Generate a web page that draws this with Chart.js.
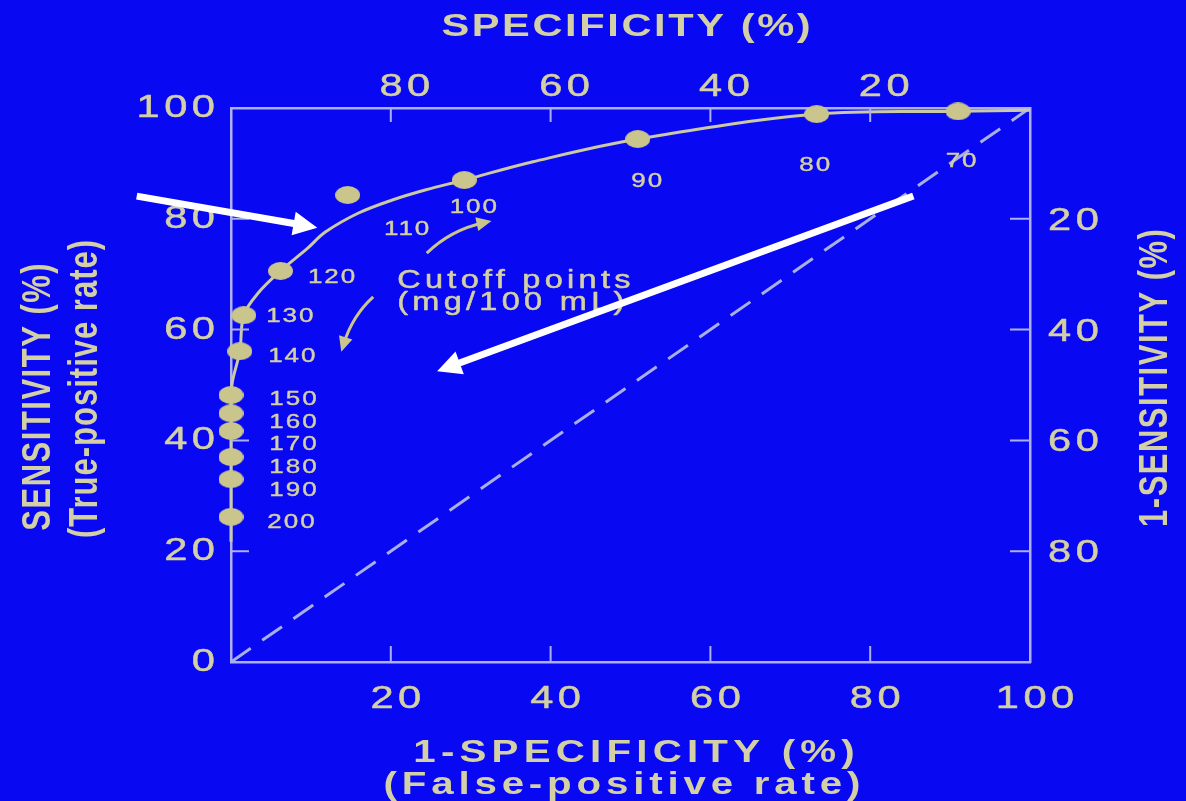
<!DOCTYPE html>
<html>
<head>
<meta charset="utf-8">
<script src="https://cdn.jsdelivr.net/npm/chart.js@4.4.1/dist/chart.umd.min.js"></script>
<style>
  html, body { margin: 0; padding: 0; background: #0808f2; }
  #roc { display: block; }
</style>
</head>
<body>
<canvas id="roc" width="1186" height="801"></canvas>
<script>
// cutoff points (mg/100 mL)
const cutoffs = [70, 80, 90, 100, 110, 120, 130, 140, 150, 160, 170, 180, 190, 200];
// 1-specificity (%) and sensitivity (%) for each cutoff
const falsePositive = [91, 73.3, 50.9, 29.2, 14.6, 6.2, 1.6, 1.1, 0, 0, 0, 0, 0, 0];
const truePositive = [99.4, 98.9, 94.4, 87.0, 84.3, 70.6, 62.6, 56.1, 48.2, 44.9, 41.7, 37.0, 33.0, 26.2];

// the drawn ROC curve
const curveFP = [0, 0, 0.2, 1.1, 1.6, 3.4, 6.2, 9.6, 11.8, 15.9, 20.2, 24.3, 29.2, 37.8, 50.9, 73.3, 91, 100];
const curveTP = [21.7, 48, 50.8, 56.1, 62.6, 66.6, 70.6, 74.7, 77.6, 81, 83.4, 85.2, 87, 90.3, 94.4, 98.9, 99.4, 99.6];

// chance line
const chanceFP = [0, 100];
const chanceTP = [0, 100];

const BG = '#0808f2';
const TEXT = '#d4d0a6';
const DOT = '#c9c58c';
const CURVE = '#cbc9a6';
const FRAME = '#adb0f0';
const DIAG = '#a8aee6';
const FONT = '"Liberation Sans", Arial, sans-serif';
const STRETCH = 1.3; // the slide is squashed wide

const toXY = (xs, ys) => xs.map((x, i) => ({ x, y: ys[i] }));

// ellipse marker
const dot = document.createElement('canvas');
dot.width = 25;
dot.height = 18;
{
  const c = dot.getContext('2d');
  c.fillStyle = DOT;
  c.beginPath();
  c.ellipse(12.5, 9, 12.5, 9, 0, 0, Math.PI * 2);
  c.fill();
}

function drawText(ctx, str, x, y, o) {
  ctx.save();
  ctx.translate(x, y);
  ctx.scale(STRETCH, 1);
  ctx.rotate(o.angle || 0);
  ctx.font = o.font;
  const sp = o.spacing || 0;
  ctx.letterSpacing = sp + 'px';
  ctx.fillStyle = o.color || TEXT;
  ctx.strokeStyle = o.color || TEXT;
  ctx.textAlign = o.align || 'center';
  ctx.textBaseline = 'alphabetic';
  const dx = ctx.textAlign === 'center' ? sp / 2 : ctx.textAlign === 'right' ? sp : 0;
  ctx.fillText(str, dx, 0);
  if (o.heavy) {
    ctx.lineWidth = o.heavy;
    ctx.lineJoin = 'round';
    ctx.strokeText(str, dx, 0);
  }
  ctx.restore();
}

function arrowHead(ctx, tx, ty, ang, len, half) {
  const bx = tx - len * Math.cos(ang);
  const by = ty - len * Math.sin(ang);
  ctx.beginPath();
  ctx.moveTo(tx, ty);
  ctx.lineTo(bx + half * Math.sin(ang), by - half * Math.cos(ang));
  ctx.lineTo(bx - half * Math.sin(ang), by + half * Math.cos(ang));
  ctx.closePath();
  ctx.fill();
}

// label nudges in px from each marker
const labelNudge = [[3, 49], [-2, 50], [9, 41], [9, 26], [59, 33], [51, 5], [46, 0], [52, 4],
  [62, 3], [62, 8], [62, 12], [62, 9], [62, 10], [60, 4]];

// white pointers and the small curved arrows, in data units
const pointers = [
  { from: [-11.8, 84.1], to: [10.8, 78.4] },
  { from: [85.4, 84.1], to: [25.8, 52.5] },
];
const bends = [
  { from: [24.5, 73.8], ctrl: [27.5, 78], to: [32.6, 79.6] },
  { from: [17.8, 65.9], ctrl: [15.2, 62.5], to: [13.8, 56] },
];

const decor = {
  id: 'decor',
  beforeDraw(chart) {
    const ctx = chart.ctx;
    ctx.save();
    ctx.fillStyle = BG;
    ctx.fillRect(0, 0, chart.width, chart.height);
    ctx.restore();
  },
  afterDraw(chart) {
    const ctx = chart.ctx;
    const { x, x2, y, y2 } = chart.scales;
    const a = chart.chartArea;
    const tickOpts = { font: '32px ' + FONT, spacing: 3.5, heavy: 0.5 };

    // inward ticks
    ctx.save();
    ctx.strokeStyle = FRAME;
    ctx.lineWidth = 2;
    const inner = (t) => t.value > 0 && t.value < 100;
    ctx.beginPath();
    x.ticks.filter(inner).forEach(t => { const p = x.getPixelForValue(t.value); ctx.moveTo(p, a.bottom); ctx.lineTo(p, a.bottom - 16); });
    x2.ticks.filter(inner).forEach(t => { const p = x2.getPixelForValue(t.value); ctx.moveTo(p, a.top); ctx.lineTo(p, a.top + 14); });
    y.ticks.filter(inner).forEach(t => { const p = y.getPixelForValue(t.value); ctx.moveTo(a.left, p); ctx.lineTo(a.left + 18, p); });
    y2.ticks.filter(inner).forEach(t => { const p = y2.getPixelForValue(t.value); ctx.moveTo(a.right, p); ctx.lineTo(a.right - 20, p); });
    ctx.stroke();
    ctx.restore();

    // tick labels
    x.ticks.filter(t => t.value > 0).forEach(t =>
      drawText(ctx, String(t.value), x.getPixelForValue(t.value) + 5, a.bottom + 46, tickOpts));
    x2.ticks.filter(inner).forEach(t =>
      drawText(ctx, String(t.value), x2.getPixelForValue(t.value) + 14, a.top - 12, tickOpts));
    y.ticks.forEach(t =>
      drawText(ctx, String(t.value), a.left - 16, y.getPixelForValue(t.value) + 9, { ...tickOpts, align: 'right' }));
    y2.ticks.filter(inner).forEach(t =>
      drawText(ctx, String(t.value), a.right + 18, y2.getPixelForValue(t.value) + 11, { ...tickOpts, align: 'left' }));

    // axis titles
    const bold = 'bold 31px ' + FONT;
    drawText(ctx, 'SPECIFICITY (%)', 626, 36, { font: 'bold 32px ' + FONT, spacing: 2 });
    drawText(ctx, '1-SPECIFICITY (%)', 634, 762, { font: 'bold 31px ' + FONT, spacing: 4 });
    drawText(ctx, '(False-positive rate)', 622, 794, { font: 'bold 31px ' + FONT, spacing: 3.7 });
    drawText(ctx, 'SENSITIVITY (%)', 50, 397, { font: bold, spacing: 1.5, angle: -Math.PI / 2 });
    drawText(ctx, '(True-positive rate)', 97, 389, { font: bold, spacing: 1, angle: -Math.PI / 2 });
    drawText(ctx, '1-SENSITIVITY (%)', 1167, 378, { font: bold, spacing: 1.5, angle: -Math.PI / 2 });

    // cutoff labels
    const meta = chart.getDatasetMeta(0);
    meta.data.forEach((pt, i) => {
      const [dx, dy] = labelNudge[i];
      drawText(ctx, String(cutoffs[i]), pt.x + dx, pt.y + dy + 7, { font: '20px ' + FONT, spacing: 1.5, heavy: 0.4 });
    });

    // "Cutoff points" note
    const nx = x.getPixelForValue(20.8);
    const ny = y.getPixelForValue(67.5);
    drawText(ctx, 'Cutoff points', nx, ny, { font: '25px ' + FONT, spacing: 3.3, align: 'left', heavy: 0.5 });
    drawText(ctx, '(mg/100 mL)', nx, ny + 22, { font: '25px ' + FONT, spacing: 3.3, align: 'left', heavy: 0.5 });

    // small curved arrows
    ctx.save();
    ctx.strokeStyle = DOT;
    ctx.fillStyle = DOT;
    ctx.lineWidth = 3;
    bends.forEach(b => {
      const s = [x.getPixelForValue(b.from[0]), y.getPixelForValue(b.from[1])];
      const c = [x.getPixelForValue(b.ctrl[0]), y.getPixelForValue(b.ctrl[1])];
      const e = [x.getPixelForValue(b.to[0]), y.getPixelForValue(b.to[1])];
      const ang = Math.atan2(e[1] - c[1], e[0] - c[0]);
      ctx.beginPath();
      ctx.moveTo(s[0], s[1]);
      ctx.quadraticCurveTo(c[0], c[1], e[0] - 8 * Math.cos(ang), e[1] - 8 * Math.sin(ang));
      ctx.stroke();
      arrowHead(ctx, e[0], e[1], ang, 15, 7);
    });
    ctx.restore();

    // white pointers
    ctx.save();
    ctx.strokeStyle = '#ffffff';
    ctx.fillStyle = '#ffffff';
    ctx.lineWidth = 7;
    pointers.forEach(p => {
      const s = [x.getPixelForValue(p.from[0]), y.getPixelForValue(p.from[1])];
      const e = [x.getPixelForValue(p.to[0]), y.getPixelForValue(p.to[1])];
      const ang = Math.atan2(e[1] - s[1], e[0] - s[0]);
      ctx.beginPath();
      ctx.moveTo(s[0], s[1]);
      ctx.lineTo(e[0] - 18 * Math.cos(ang), e[1] - 18 * Math.sin(ang));
      ctx.stroke();
      arrowHead(ctx, e[0], e[1], ang, 24, 12);
    });
    ctx.restore();
  },
};

function axis(position, reverse, size) {
  return {
    type: 'linear',
    position,
    reverse,
    min: 0,
    max: 100,
    ticks: { display: false, stepSize: 20 },
    grid: { display: false },
    border: { display: true, color: FRAME, width: 2.5 },
    afterFit: (s) => {
      if (s.isHorizontal()) s.height = size;
      else s.width = size;
    },
  };
}

new Chart(document.getElementById('roc'), {
  type: 'scatter',
  data: {
    datasets: [
      {
        label: 'Cutoff points',
        data: toXY(falsePositive, truePositive),
        pointStyle: dot,
        pointRadius: 10,
        clip: false,
      },
      {
        label: 'ROC curve',
        data: toXY(curveFP, curveTP),
        showLine: true,
        borderColor: CURVE,
        borderWidth: 3,
        tension: 0.35,
        pointRadius: 0,
        clip: false,
      },
      {
        label: 'Chance',
        data: toXY(chanceFP, chanceTP),
        showLine: true,
        borderColor: DIAG,
        borderWidth: 3,
        borderDash: [24, 14],
        pointRadius: 0,
      },
    ],
  },
  options: {
    responsive: false,
    animation: false,
    layout: { padding: 0 },
    plugins: { legend: false, tooltip: false },
    scales: {
      x: axis('bottom', false, 139),
      x2: axis('top', true, 108),
      y: axis('left', false, 231),
      y2: axis('right', true, 156),
    },
  },
  plugins: [decor],
});
</script>
</body>
</html>
